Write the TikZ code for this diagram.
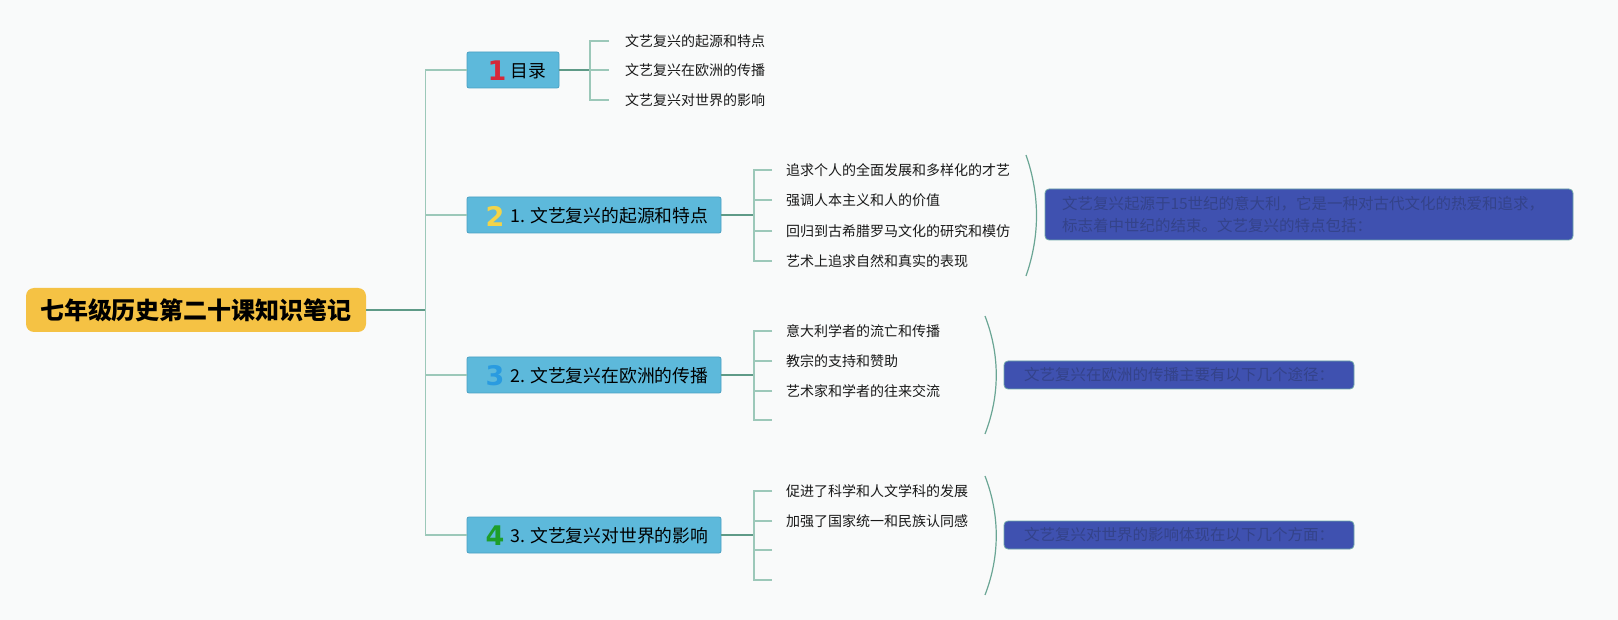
\documentclass[tikz,border=0pt]{standalone}
\usepackage{fontspec}
\setmainfont{Noto Sans CJK SC}
\newfontfamily\numfont{DejaVu Sans}
\definecolor{bgc}{HTML}{F9FAFA}
\definecolor{rootc}{HTML}{F5C244}
\definecolor{topicc}{HTML}{5DB9DB}
\definecolor{topicb}{HTML}{4AA0C2}
\definecolor{sumc}{HTML}{3F51B0}
\definecolor{sumt}{HTML}{34438A}
\definecolor{sumb}{HTML}{6FA8A8}
\definecolor{darkl}{HTML}{5F9A87}
\definecolor{lightl}{HTML}{9CC8B9}
\definecolor{arcc}{HTML}{6AA594}
\definecolor{n1}{HTML}{D62839}
\definecolor{n2}{HTML}{F2D449}
\definecolor{n3}{HTML}{2A9BE0}
\definecolor{n4}{HTML}{1E9E2A}
\tikzset{
  root/.style={fill=rootc, rounded corners=8pt, minimum width=340pt, minimum height=44pt, inner sep=0pt, font=\fontsize{24}{27}\selectfont\bfseries, text=black},
  topic/.style={fill=topicc, draw=topicb, line width=0.8pt, rounded corners=2pt, minimum height=36pt, inner sep=0pt},
  numlab/.style={font=\numfont\fontsize{27}{29}\selectfont\bfseries, inner sep=0pt},
  tlabel/.style={anchor=west, inner sep=0pt, font=\fontsize{17.8}{20}\selectfont, text=black},
  leaf/.style={anchor=west, inner sep=0pt, font=\fontsize{14}{17}\selectfont, text=black!90},
  summary/.style={fill=sumc, draw=sumb, line width=0.8pt, rounded corners=4pt, inner sep=0pt, text=sumt, font=\fontsize{15.5}{22}\selectfont},
  darkline/.style={draw=darkl, line width=1.5pt},
  lightline/.style={draw=lightl, line width=1.3pt},
  arcline/.style={draw=arcc, line width=1.2pt}
}
\begin{document}
\begin{tikzpicture}[x=1pt,y=-1pt]
\fill[bgc] (0,0) rectangle (1618,620);
\useasboundingbox (0,0) rectangle (1618,620);

% root
\node[root] (root) at (196,310) {七年级历史第二十课知识笔记};

% topics
\node[topic, minimum width=92pt] (t1) at (513,70) {};
\node[topic, minimum width=254pt] (t2) at (594,215) {};
\node[topic, minimum width=254pt] (t3) at (594,375) {};
\node[topic, minimum width=254pt] (t4) at (594,535) {};

\node[numlab, text=n1] (d1) at (497,71) {1};
\node[tlabel] (x1) at (510,71) {目录};
\node[numlab, text=n2] (d2) at (495,216) {2};
\node[tlabel] (x2) at (510,216) {1. 文艺复兴的起源和特点};
\node[numlab, text=n3] (d3) at (495,376) {3};
\node[tlabel] (x3) at (510,376) {2. 文艺复兴在欧洲的传播};
\node[numlab, text=n4] (d4) at (495,536) {4};
\node[tlabel] (x4) at (510,536) {3. 文艺复兴对世界的影响};

% trunk
\coordinate (trunk) at (426,310);
\draw[darkline] (root.east) -- (trunk);
\draw[lightline] (t1.west) -- ++(-41,0) |- (t4.west);
\draw[lightline] (t2.west) -- ++(-41,0);
\draw[lightline] (t3.west) -- ++(-41,0);

% group 1
\node[leaf] (l11) at (625,41) {文艺复兴的起源和特点};
\node[leaf] (l12) at (625,70) {文艺复兴在欧洲的传播};
\node[leaf] (l13) at (625,100) {文艺复兴对世界的影响};
\coordinate (b1) at (590,70);
\coordinate (e11) at (609,41);
\coordinate (e12) at (609,70);
\coordinate (e13) at (609,100);
\draw[darkline] (t1.east) -- (b1);
\draw[lightline] (e11) -| (b1) |- (e13);
\draw[lightline] (b1) -- (e12);

% group 2
\node[leaf] (l21) at (786,170) {追求个人的全面发展和多样化的才艺};
\node[leaf] (l22) at (786,200) {强调人本主义和人的价值};
\node[leaf] (l23) at (786,231) {回归到古希腊罗马文化的研究和模仿};
\node[leaf] (l24) at (786,261) {艺术上追求自然和真实的表现};
\coordinate (b2) at (754,215);
\coordinate (e21) at (772,170);
\coordinate (e22) at (772,200);
\coordinate (e23) at (772,231);
\coordinate (e24) at (772,261);
\draw[darkline] (t2.east) -- (b2);
\draw[lightline] (e21) -| (b2) |- (e24);
\draw[lightline] (e22) -- (e22 -| b2);
\draw[lightline] (e23) -- (e23 -| b2);
\coordinate (a2s) at (1026,155);
\coordinate (a2e) at (1026,276);
\draw[arcline] (a2s) .. controls (1040,195) and (1040,236) .. (a2e);
\node[summary, minimum width=528pt, minimum height=51pt, text width=494pt, align=left] (s2) at (1309,214.5)
  {文艺复兴起源于15世纪的意大利，它是一种对古代文化的热爱和追求，\\标志着中世纪的结束。文艺复兴的特点包括：};

% group 3
\node[leaf] (l31) at (786,331) {意大利学者的流亡和传播};
\node[leaf] (l32) at (786,361) {教宗的支持和赞助};
\node[leaf] (l33) at (786,391) {艺术家和学者的往来交流};
\coordinate (b3) at (754,375);
\coordinate (e31) at (772,331);
\coordinate (e32) at (772,361);
\coordinate (e33) at (772,391);
\coordinate (e34) at (772,420);
\draw[darkline] (t3.east) -- (b3);
\draw[lightline] (e31) -| (b3) |- (e34);
\draw[lightline] (e32) -- (e32 -| b3);
\draw[lightline] (e33) -- (e33 -| b3);
\coordinate (a3s) at (985,316);
\coordinate (a3e) at (985,434);
\draw[arcline] (a3s) .. controls (1000,355) and (1000,395) .. (a3e);
\node[summary, minimum width=350pt, minimum height=28pt] (s3) at (1179,375)
  {文艺复兴在欧洲的传播主要有以下几个途径：};

% group 4
\node[leaf] (l41) at (786,491) {促进了科学和人文学科的发展};
\node[leaf] (l42) at (786,521) {加强了国家统一和民族认同感};
\coordinate (b4) at (754,535);
\coordinate (e41) at (772,491);
\coordinate (e42) at (772,521);
\coordinate (e43) at (772,550);
\coordinate (e44) at (772,580);
\draw[darkline] (t4.east) -- (b4);
\draw[lightline] (e41) -| (b4) |- (e44);
\draw[lightline] (e42) -- (e42 -| b4);
\draw[lightline] (e43) -- (e43 -| b4);
\coordinate (a4s) at (985,476);
\coordinate (a4e) at (985,595);
\draw[arcline] (a4s) .. controls (1000,515) and (1000,556) .. (a4e);
\node[summary, minimum width=350pt, minimum height=28pt] (s4) at (1179,535)
  {文艺复兴对世界的影响体现在以下几个方面：};
\end{tikzpicture}
\end{document}
